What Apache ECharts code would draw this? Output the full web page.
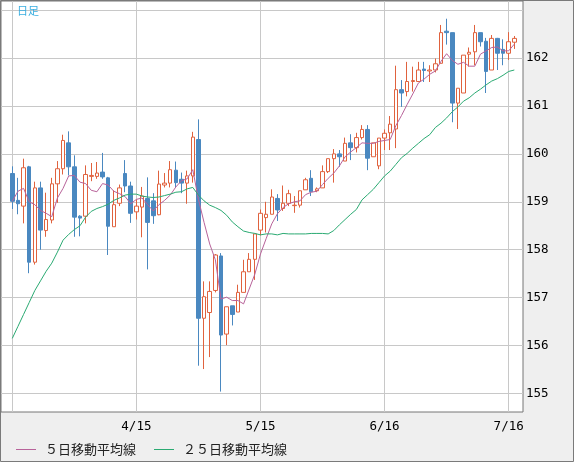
<!DOCTYPE html>
<html><head><meta charset="utf-8">
<script src="https://cdn.jsdelivr.net/npm/echarts@6/dist/echarts.min.js"></script>
<style>html,body{margin:0;padding:0;background:#efefef;}#c{width:574px;height:462px;}</style>
</head><body><div id="c"></div>
<script>
const opens = [159.59,159.03,158.91,159.73,157.74,159.29,158.40,158.62,159.375,159.69,
160.23,159.73,158.70,158.70,159.53,159.53,159.62,159.50,158.48,158.97,
159.59,159.33,158.79,158.89,159.07,159.02,158.73,159.35,159.39,159.66,
159.47,159.39,159.54,160.30,156.57,156.69,157.15,157.87,156.24,156.83,
156.70,157.11,157.54,157.80,158.41,158.67,158.74,159.07,158.86,158.97,
158.92,158.93,159.25,159.49,159.23,159.29,159.63,159.90,160.00,159.85,
160.23,160.13,160.34,160.51,159.94,159.75,160.33,160.44,160.52,161.34,
161.30,161.51,161.51,161.77,161.73,161.75,161.89,162.56,162.53,161.06,
161.27,162.08,162.13,162.53,162.35,161.75,162.41,162.18,162.10,162.33];
const closes = [159.01,158.96,159.71,157.74,159.29,158.41,158.63,159.375,159.69,160.28,
159.73,158.68,158.66,159.57,159.55,159.60,159.52,158.49,158.94,159.29,
159.33,158.76,158.91,159.12,158.57,158.71,159.37,159.39,159.67,159.40,
159.39,159.54,160.35,156.57,157.02,157.13,157.89,156.22,156.81,156.65,
157.11,157.54,157.80,158.33,158.76,158.74,159.10,158.83,158.97,159.17,
158.93,159.23,159.46,159.21,159.27,159.63,159.90,160.00,159.94,160.22,
160.13,160.34,160.51,159.91,160.23,160.33,160.43,160.62,161.34,161.27,
161.51,161.53,161.75,161.74,161.75,161.88,162.53,162.53,161.06,161.37,
162.06,162.12,162.53,162.34,161.72,162.41,162.10,162.10,162.34,162.41];
const lows = [158.85,158.74,158.55,157.51,157.69,158.00,158.27,158.55,158.98,159.57,
159.55,158.27,158.28,158.55,159.43,159.48,159.48,157.89,158.48,158.91,
159.20,158.56,158.63,158.26,157.59,158.54,158.72,159.30,159.30,159.30,
159.18,158.96,159.40,155.58,155.51,155.76,157.11,155.04,156.01,156.42,
156.70,157.11,157.54,157.37,158.30,158.36,158.74,158.60,158.81,158.91,
158.77,158.88,159.25,159.12,159.20,159.29,159.60,159.40,159.73,159.85,
159.87,160.03,160.30,159.66,159.94,159.68,160.08,160.08,160.12,160.98,
161.20,161.30,161.51,161.50,161.50,161.70,161.89,162.28,160.66,160.52,
161.27,161.82,161.85,162.24,161.27,161.75,161.75,161.85,161.96,162.19];
const highs = [159.74,159.50,159.90,159.75,159.42,159.42,159.19,159.50,159.85,160.40,
160.47,159.97,158.72,159.76,159.81,159.83,160.02,159.52,159.24,159.36,
159.87,159.42,159.05,159.31,159.51,159.18,159.65,159.60,159.85,159.84,
159.61,159.65,160.46,160.72,157.34,157.34,157.91,157.93,156.81,156.83,
157.27,157.79,157.93,158.33,158.84,159.00,159.26,159.16,159.34,159.25,
159.12,159.23,159.50,159.66,159.30,159.76,159.90,160.10,160.08,160.34,
160.41,160.44,160.60,160.60,160.23,160.33,160.51,160.79,161.84,161.54,
161.92,161.82,161.92,161.92,161.85,161.99,162.69,162.82,162.53,161.37,
162.06,162.22,162.69,162.53,162.42,162.48,162.42,162.39,162.54,162.46];
const ma5 = [159.01,159.22,159.28,159.00,158.94,158.82,158.76,158.69,159.08,159.28,
159.54,159.55,159.41,159.38,159.24,159.21,159.38,159.35,159.22,159.17,
159.11,158.96,159.05,159.08,158.94,158.81,158.94,159.03,159.14,159.31,
159.44,159.48,159.67,159.05,158.57,158.12,157.79,156.97,157.01,156.94,
156.94,156.87,157.18,157.49,157.91,158.23,158.54,158.75,158.88,158.96,
159.00,159.02,159.15,159.20,159.22,159.36,159.49,159.60,159.75,159.94,
160.04,160.13,160.23,160.22,160.22,160.26,160.28,160.30,160.59,160.80,
161.03,161.25,161.48,161.56,161.66,161.73,161.93,162.09,161.95,161.87,
161.91,161.83,161.83,162.08,162.15,162.22,162.23,162.15,162.15,162.29];
const ma25 = [156.15,156.40,156.65,156.90,157.15,157.35,157.55,157.72,157.95,158.20,
158.32,158.42,158.50,158.68,158.80,158.86,158.90,158.95,159.03,159.08,
159.14,159.16,159.16,159.12,159.10,159.09,159.10,159.13,159.16,159.20,
159.21,159.27,159.30,159.14,159.02,158.93,158.88,158.82,158.72,158.58,
158.48,158.39,158.36,158.34,158.31,158.33,158.33,158.31,158.34,158.33,
158.33,158.33,158.33,158.34,158.34,158.34,158.33,158.40,158.52,158.63,
158.74,158.84,159.04,159.15,159.26,159.40,159.54,159.64,159.78,159.92,
160.01,160.12,160.22,160.32,160.40,160.55,160.64,160.75,160.88,160.98,
161.10,161.17,161.27,161.35,161.44,161.52,161.57,161.64,161.72,161.75];
const xGridIndex = [0, 22, 44, 66, 88];
const xLabelIndex = [22, 44, 66, 88];
const xLabelText = ['4/15', '5/15', '6/16', '7/16'];
const yGridValues = [155, 156, 157, 158, 159, 160, 161, 162, 163];
const yLabelValues = [155, 156, 157, 158, 159, 160, 161, 162];
const seriesNames = ['５日移動平均線', '２５日移動平均線'];

const chart = echarts.init(document.getElementById('c'), null, {renderer: 'canvas'});
const candleData = opens.map((o, i) => [i, o, closes[i], lows[i], highs[i]]);
const gridLineStyle = {color: '#c8c8c8', width: 1};
const labelFont = {color: '#000', fontFamily: 'DejaVu Sans Mono', fontSize: 12.5};
chart.setOption({
  animation: false,
  backgroundColor: '#efefef',
  title: {text: '日足', left: 12, top: 0, textStyle: {fontSize: 11, color: '#3aaee0', fontWeight: 'normal', fontFamily: 'Noto Sans CJK JP'}},
  grid: {left: 1, top: 1, right: 51, bottom: 50, show: true, backgroundColor: '#fff', borderColor: '#777', borderWidth: 1},
  xAxis: {
    type: 'value', min: -2, max: 90.54,
    axisLine: {show: false},
    axisTick: {show: false, customValues: xGridIndex},
    splitLine: {show: true, lineStyle: gridLineStyle},
    axisLabel: Object.assign({customValues: xLabelIndex, margin: 8,
      formatter: v => { const k = xLabelIndex.indexOf(Math.round(v)); return k >= 0 ? xLabelText[k] : ''; }}, labelFont)
  },
  yAxis: {
    type: 'value', position: 'right', min: 154.614, max: 163.19, scale: true,
    axisLine: {show: false},
    axisTick: {show: false, customValues: yGridValues},
    splitLine: {show: true, lineStyle: gridLineStyle},
    axisLabel: Object.assign({customValues: yLabelValues, margin: 3, formatter: v => String(Math.round(v))}, labelFont)
  },
  legend: {
    data: seriesNames, left: 11, top: 438, icon: 'rect', itemWidth: 20, itemHeight: 1, itemGap: 18,
    textStyle: {color: '#222', fontSize: 13, fontFamily: 'Noto Sans CJK JP', padding: [0, 0, 0, 4]}
  },
  graphic: [{type: 'rect', shape: {x: 0.5, y: 0.5, width: 573, height: 461}, style: {fill: null, stroke: '#7a7a7a', lineWidth: 1}, z: 100, silent: true}],
  series: [
    {type: 'candlestick', name: 'price', data: candleData, barWidth: 4,
     itemStyle: {color: '#ffffff', color0: '#4a88c0', borderColor: '#e0623e', borderColor0: '#4a88c0', borderWidth: 1}},
    {type: 'line', name: seriesNames[0], data: ma5.map((v, i) => [i, v]), symbol: 'none', z: 5,
     lineStyle: {color: '#b8639a', width: 1}, itemStyle: {color: '#b8639a'}},
    {type: 'line', name: seriesNames[1], data: ma25.map((v, i) => [i, v]), symbol: 'none', z: 5,
     lineStyle: {color: '#2aaa72', width: 1}, itemStyle: {color: '#2aaa72'}}
  ]
});
</script></body></html>
